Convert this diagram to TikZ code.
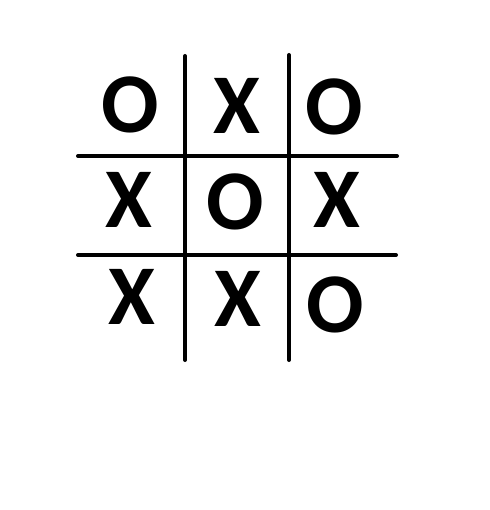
\documentclass[tikz,border=0pt]{standalone}
\usepackage{fontspec}
\setmainfont{Carlito}
\usepackage{tikz}
\tikzset{
  gridline/.style={line width=4pt, line cap=round, color=black},
  cellmark/.style={inner sep=0pt, font=\fontsize{85}{85}\selectfont\bfseries},
}

\begin{document}
\begin{tikzpicture}[x=1pt, y=-1pt]
  \useasboundingbox (0,0) rectangle (489,510);

  % Grid
  \draw[gridline] (185,56) -- (185,360);
  \draw[gridline] (289,55) -- (289,360);
  \draw[gridline] (78,156) -- (397,156);
  \draw[gridline] (78,255) -- (396,255);

  % Top row
  \node[cellmark] (tl) at (130,105) {O};
  \node[cellmark] (tm) at (237,106) {X};
  \node[cellmark] (tr) at (334,107) {O};

  % Middle row
  \node[cellmark] (ml) at (129,200) {X};
  \node[cellmark] (mm) at (235,202) {O};
  \node[cellmark] (mr) at (337,200) {X};

  % Bottom row
  \node[cellmark] (bl) at (132,297) {X};
  \node[cellmark] (bm) at (238,299) {X};
  \node[cellmark] (br) at (335,305) {O};
\end{tikzpicture}
\end{document}
